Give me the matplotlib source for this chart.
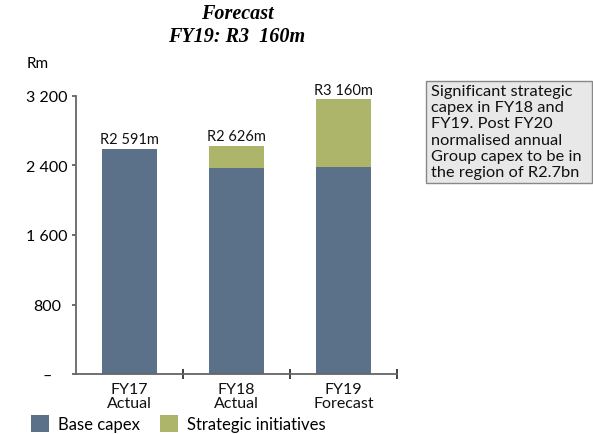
import matplotlib
matplotlib.use("Agg")
import matplotlib.pyplot as plt
from matplotlib.patches import Rectangle

categories = ["FY17\nActual", "FY18\nActual", "FY19\nForecast"]
base_capex = [2591, 2370, 2385]
strategic = [0, 256, 775]
totals = [2591, 2626, 3160]
total_labels = ["R2 591m", "R2 626m", "R3 160m"]
yticks = [0, 800, 1600, 2400, 3200]
ytick_labels = ["\u2013", "800", "1 600", "2 400", "3 200"]

BLUE = "#5b7089"
GREEN = "#adb56b"
FONT = ["Lato", "DejaVu Sans"]

plt.rcParams["font.family"] = FONT

fig = plt.figure(figsize=(5.93, 4.35), dpi=100)
ax = fig.add_axes([76 / 593, 1 - 375 / 435, 321 / 593, 278 / 435])

x = list(range(len(categories)))
ax.bar(x, base_capex, width=0.51, color=BLUE, zorder=2)
ax.bar(x, strategic, width=0.51, bottom=base_capex, color=GREEN, zorder=2)

for xi, t, lab in zip(x, totals, total_labels):
    ax.text(xi, t + 30, lab, ha="center", va="bottom", fontsize=10.5, color="#111111")

ax.set_xlim(-0.5, 2.5)
ax.set_ylim(0, 3200)
ax.set_yticks(yticks)
ax.set_yticklabels(ytick_labels, fontsize=11.5)
ax.tick_params(axis="y", length=3, width=1.2, color="#555555", pad=18)
for lab in ax.get_yticklabels():
    lab.set_horizontalalignment("center")

# category boundaries carry the x tick marks
ax.set_xticks([0.5, 1.5, 2.5])
ax.set_xticklabels([])
ax.tick_params(axis="x", direction="inout", length=7, width=1.2, color="#222222")
for xi, cat in zip(x, categories):
    ax.text(xi, -95, cat, ha="center", va="top", fontsize=11.5,
            linespacing=0.95, color="#111111")

for side in ("top", "right"):
    ax.spines[side].set_visible(False)
for side in ("left", "bottom"):
    ax.spines[side].set_color("#666666")
    ax.spines[side].set_linewidth(1.3)

# title
title_font = dict(ha="center", va="center", fontsize=14.5, fontweight="bold",
                  fontstyle="italic", family=["Liberation Serif", "DejaVu Serif"])
fig.text(237 / 593, 1 - 14 / 435, "Forecast", **title_font)
fig.text(237 / 593, 1 - 37 / 435, "FY19: R3  160m", **title_font)

fig.text(27 / 593, 1 - 64 / 435, "Rm", ha="left", va="center", fontsize=11)

# note box
fig.patches.append(Rectangle((426 / 593, 1 - 184 / 435), 166 / 593, 102 / 435,
                             transform=fig.transFigure, facecolor="#e8e8e8",
                             edgecolor="#888888", linewidth=1.0))
fig.text(431 / 593, 1 - 85 / 435,
         "Significant strategic\ncapex in FY18 and\nFY19. Post FY20\nnormalised annual\nGroup capex to be in\nthe region of R2.7bn",
         ha="left", va="top", fontsize=11.8, linespacing=1.2, color="#111111")

# legend
for (x0, color, label) in [(31, BLUE, "Base capex"), (160, GREEN, "Strategic initiatives")]:
    fig.patches.append(Rectangle((x0 / 593, 1 - 433 / 435), 18 / 593, 17 / 435,
                                 transform=fig.transFigure, facecolor=color,
                                 edgecolor="none"))
    fig.text((x0 + 27) / 593, 1 - 425 / 435, label, ha="left", va="center", fontsize=12)

fig.savefig("out.png", dpi=100)
